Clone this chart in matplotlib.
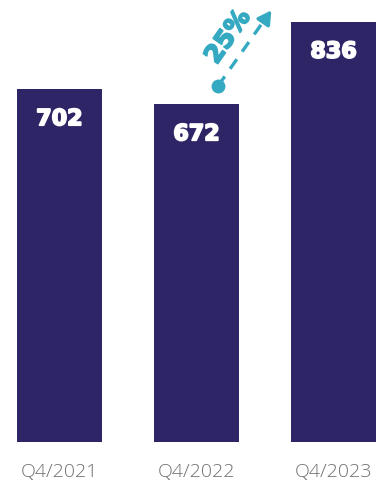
import numpy as np
import matplotlib.pyplot as plt
import matplotlib.patheffects as pe

# quarterly values
quarters = ["Q4/2021", "Q4/2022", "Q4/2023"]
values = [702, 672, 836]
growth_label = "25%"

navy = "#2e2566"
teal = "#35a9c1"

fig = plt.figure(figsize=(3.8, 4.91), dpi=100)
ax = fig.add_axes([0, 49 / 491, 1, 442 / 491])

x = np.arange(len(quarters))
ax.bar(x, values, width=0.62, color=navy)

# heavier look for the value labels
heavy_white = [pe.withStroke(linewidth=1.3, foreground="white")]
heavy_teal = [pe.withStroke(linewidth=1.3, foreground=teal)]

for xi, v in zip(x, values):
    ax.text(xi, v - 60, str(v), ha="center", va="center", color="white",
            fontsize=16, fontweight="bold", family="DejaVu Sans",
            path_effects=heavy_white)

ax.set_xlim(-0.434, 2.339)
ax.set_ylim(0, 879)
ax.axis("off")

# category labels under the bars
for xi, q in zip(x, quarters):
    ax.text(xi, -60, q, ha="center", va="center", color="#707070",
            fontsize=14, fontweight="light", family="Open Sans")

# growth arrow from bar 2 towards bar 3
start = (1.157, 708)
end = (1.558, 863)
ax.plot([start[0], 1.51], [start[1], 845], color=teal, lw=2.4,
        dashes=(3.5, 2.8), solid_capstyle="butt")
ax.plot(*start, "o", color=teal, ms=10, mew=0)
ax.annotate("", xy=end, xytext=(1.50, 840),
            arrowprops=dict(arrowstyle="-|>,head_length=0.8,head_width=0.45",
                            color=teal, lw=2.4))
ax.text(1.23, 806, growth_label, ha="center", va="center", color=teal,
        fontsize=18, fontweight="bold", family="DejaVu Sans", rotation=55,
        rotation_mode="anchor", path_effects=heavy_teal)

fig.savefig("out.png", dpi=100)
